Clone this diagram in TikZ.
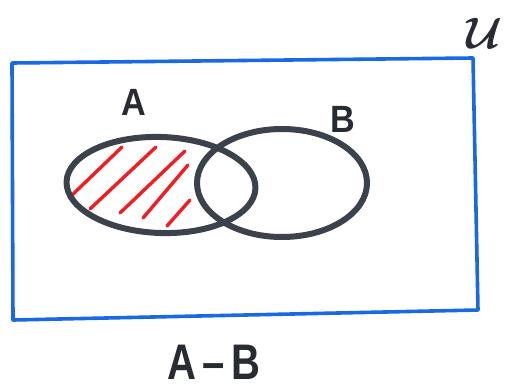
\documentclass[tikz,border=0pt]{standalone}
\usepackage{bm}
\usepackage{fontspec}
\setsansfont{Liberation Sans}
\usetikzlibrary{shapes.geometric}
\definecolor{setgray}{RGB}{60,66,76}
\definecolor{uniblue}{RGB}{25,105,225}
\definecolor{hatchred}{RGB}{240,30,35}
\definecolor{ink}{RGB}{40,44,50}
\tikzset{
  setshape/.style={ellipse, draw=setgray, line width=6pt, inner sep=0pt},
  universe/.style={draw=uniblue, line width=3.6pt, line join=round},
  hatch/.style={draw=hatchred, line width=3.4pt, line cap=round},
  lbl/.style={text=ink, font=\sffamily\bfseries\fontsize{38}{38}\selectfont, inner sep=0pt}
}
\begin{document}
\begin{tikzpicture}[x=1pt,y=-1pt]
\useasboundingbox (0,0) rectangle (520,391);
% universe rectangle
\coordinate (tl) at (12,63);
\coordinate (tr) at (473,58);
\coordinate (br) at (478,310);
\coordinate (bl) at (13,320);
\draw[universe] (tl) -- (tr) -- (br) -- (bl) -- cycle;
% hatching of A - B
\coordinate (h1a) at (69,198);  \coordinate (h1b) at (122,147);
\coordinate (h2a) at (90,209);  \coordinate (h2b) at (156,147);
\coordinate (h3a) at (120,213); \coordinate (h3b) at (185,151);
\coordinate (h4a) at (143,218); \coordinate (h4b) at (188,165);
\coordinate (h5a) at (167,226); \coordinate (h5b) at (190,200);
\draw[hatch] (h1a) -- (h1b);
\draw[hatch] (h2a) -- (h2b);
\draw[hatch] (h3a) -- (h3b);
\draw[hatch] (h4a) -- (h4b);
\draw[hatch] (h5a) -- (h5b);
% sets
\node[setshape, minimum width=189pt, minimum height=96pt, rotate=-2] (A) at (161,185) {};
\node[setshape, minimum width=170pt, minimum height=108pt] (B) at (282,183) {};
% labels
\node[lbl, xscale=0.9] (la) at (134,102) {A};
\node[lbl, xscale=0.9] (lb) at (343,119) {B};
\node[lbl, font=\normalsize, scale=4.4] (lu) at (484,33) {$\bm{\mathcal{U}}$};
\node[lbl, font=\sffamily\bfseries\fontsize{50}{50}\selectfont, xscale=0.8] (ldiff) at (214,362) {A\,–\,B};
\end{tikzpicture}
\end{document}
